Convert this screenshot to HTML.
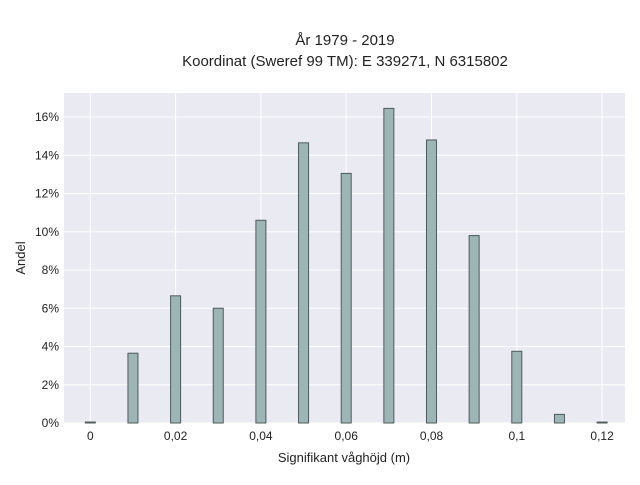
<!DOCTYPE html>
<html><head><meta charset="utf-8"><style>
body{margin:0;background:#fff;}
svg{font-family:"Liberation Sans",sans-serif;}
</style></head><body>
<svg id="chart" width="640" height="480">
<text x="345" y="45" text-anchor="middle" font-size="15" fill="#222">År 1979 - 2019</text>
<text x="345" y="66" text-anchor="middle" font-size="15" fill="#222">Koordinat (Sweref 99 TM): E 339271, N 6315802</text>
<rect x="64" y="93" width="561" height="330" fill="#eaeaf2"/>
<g id="grid"></g><g id="bars"></g><g id="ticks"></g>
<text x="344" y="462" text-anchor="middle" font-size="13" fill="#222">Signifikant våghöjd (m)</text>
<text transform="translate(25,258) rotate(-90)" text-anchor="middle" font-size="13" fill="#222">Andel</text>
</svg>
<script>
const categories=[0,0.01,0.02,0.03,0.04,0.05,0.06,0.07,0.08,0.09,0.1,0.11,0.12];
const values=[0.05,3.65,6.65,6.0,10.6,14.65,13.05,16.45,14.8,9.8,3.75,0.45,0.05];
const xTicks=[0,0.02,0.04,0.06,0.08,0.1,0.12];
const xTickLabels=["0","0,02","0,04","0,06","0,08","0,1","0,12"];
const yTicks=[0,2,4,6,8,10,12,14,16];
const yTickLabels=["0%","2%","4%","6%","8%","10%","12%","14%","16%"];
const X=v=>90.3+v*4265;
const Y=v=>423-v*19.125;
const ns="http://www.w3.org/2000/svg";
function mk(t,a,p){const e=document.createElementNS(ns,t);for(const k in a)e.setAttribute(k,a[k]);p.appendChild(e);return e;}
const g=document.getElementById('grid'),b=document.getElementById('bars'),t=document.getElementById('ticks');
xTicks.forEach((v,i)=>{
 const l=mk('line',{x1:X(v),x2:X(v),y1:93,y2:423,stroke:'#fff','stroke-width':1},g);
 
 
 const tx=mk('text',{x:X(v),y:440,'text-anchor':'middle','font-size':12,fill:'#222'},t);
 tx.textContent=xTickLabels[i];
 
 
});
yTicks.forEach((v,i)=>{
 const l=mk('line',{x1:64,x2:625,y1:Y(v),y2:Y(v),stroke:'#fff','stroke-width':1},g);
 
 
 const tx=mk('text',{x:59,y:Y(v)+4,'text-anchor':'end','font-size':12,fill:'#222'},t);
 tx.textContent=yTickLabels[i];
 
 
});
categories.forEach((c,i)=>{
 const h=values[i]*19.125;
 const r=mk('rect',{x:X(c)-5,y:Y(values[i]),width:10,height:h,fill:'#9db5b5',stroke:'#4f5a5a','stroke-width':1},b);
 
 
});
</script>
</body></html>
